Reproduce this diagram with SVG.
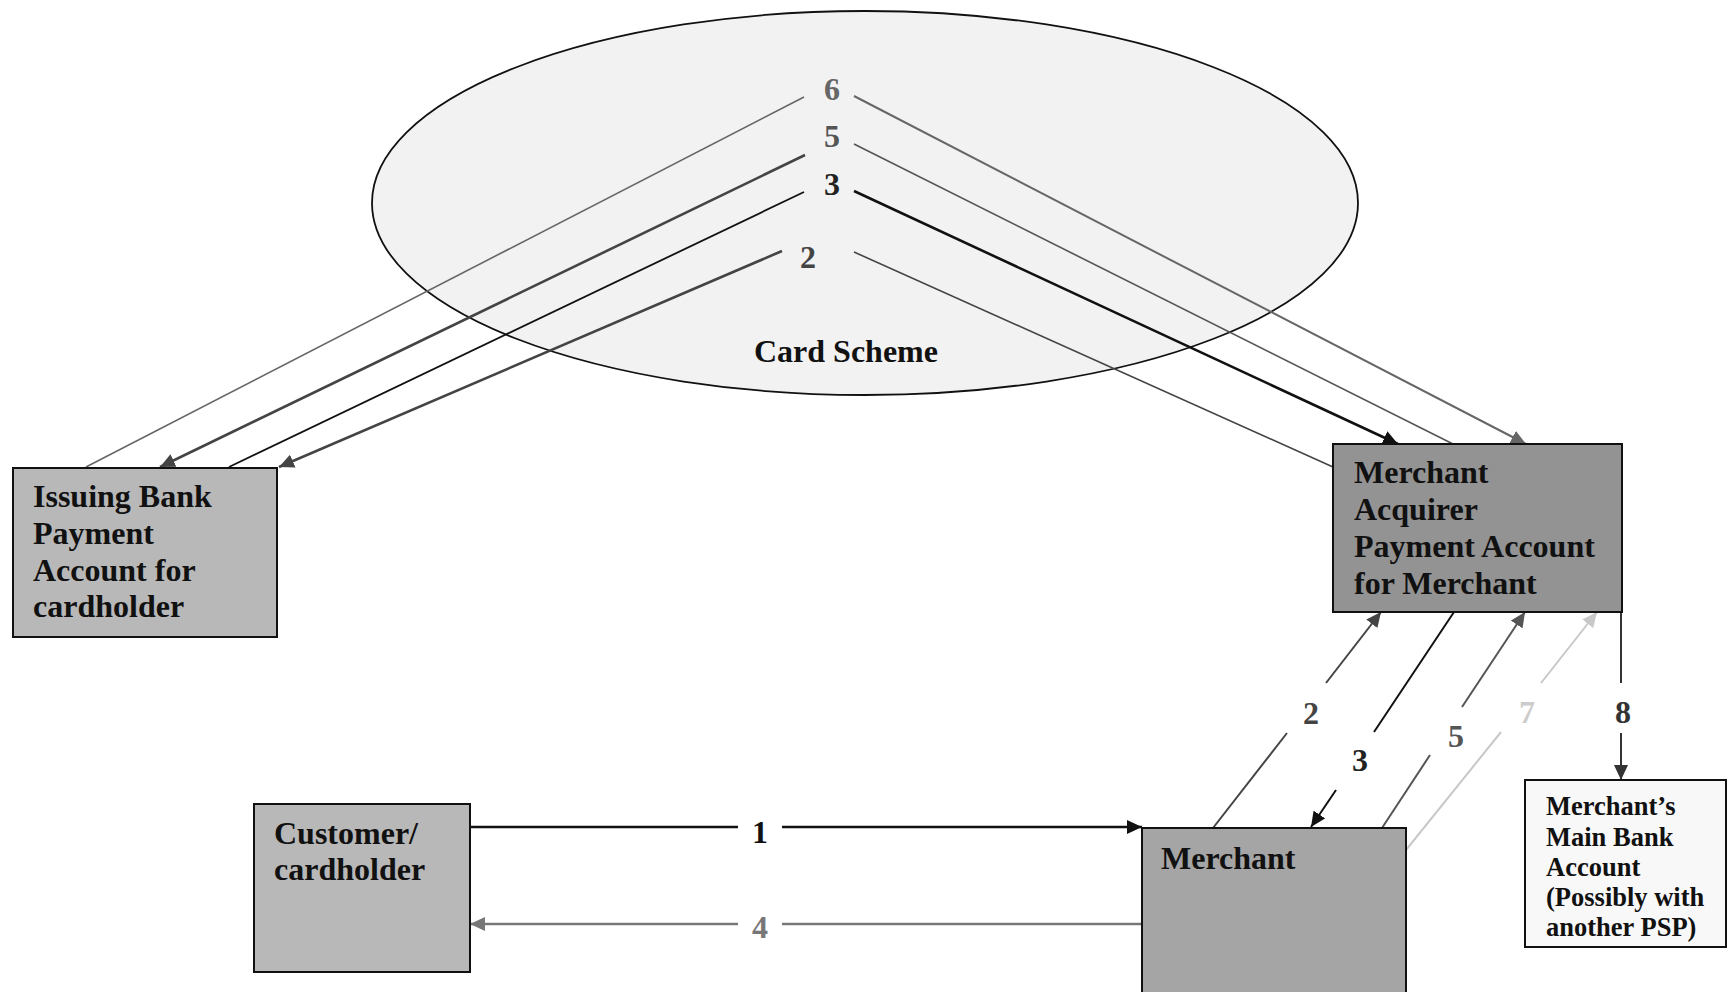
<svg xmlns="http://www.w3.org/2000/svg" width="1728" height="992" viewBox="0 0 1728 992">
<defs>
<style>
.t{font-family:"Liberation Serif","Times New Roman",serif;font-weight:bold;font-size:32px;fill:#111}
.s{font-size:26.5px}
.box{stroke:#111;stroke-width:2}
.ln{fill:none}
.lab{font-family:"Liberation Serif","Times New Roman",serif;font-weight:bold;font-size:32px;text-anchor:middle}
</style>
<marker id="a111" markerUnits="userSpaceOnUse" markerWidth="16" markerHeight="14" refX="15" refY="7" orient="auto"><path d="M0,0 L15,7 L0,14 z" fill="#111"/></marker>
<marker id="a444" markerUnits="userSpaceOnUse" markerWidth="16" markerHeight="14" refX="15" refY="7" orient="auto"><path d="M0,0 L15,7 L0,14 z" fill="#444"/></marker>
<marker id="a555" markerUnits="userSpaceOnUse" markerWidth="16" markerHeight="14" refX="15" refY="7" orient="auto"><path d="M0,0 L15,7 L0,14 z" fill="#555"/></marker>
<marker id="a666" markerUnits="userSpaceOnUse" markerWidth="16" markerHeight="14" refX="15" refY="7" orient="auto"><path d="M0,0 L15,7 L0,14 z" fill="#666"/></marker>
<marker id="a777" markerUnits="userSpaceOnUse" markerWidth="16" markerHeight="14" refX="15" refY="7" orient="auto"><path d="M0,0 L15,7 L0,14 z" fill="#777"/></marker>
<marker id="accc" markerUnits="userSpaceOnUse" markerWidth="16" markerHeight="14" refX="15" refY="7" orient="auto"><path d="M0,0 L15,7 L0,14 z" fill="#c8c8c8"/></marker>
<marker id="a333" markerUnits="userSpaceOnUse" markerWidth="16" markerHeight="14" refX="15" refY="7" orient="auto"><path d="M0,0 L15,7 L0,14 z" fill="#333"/></marker>
</defs>
<rect width="1728" height="992" fill="#fff"/>

<g id="card-scheme">
<ellipse cx="865" cy="203" rx="493" ry="192" fill="#f2f2f2" stroke="#111" stroke-width="1.8"/>
<text class="t" x="754" y="362">Card Scheme</text>
</g>

<g id="connectors">
<!-- upper left -->
<line class="ln" x1="804" y1="97" x2="86" y2="467" stroke="#666" stroke-width="1.6"/>
<line class="ln" x1="805" y1="155" x2="160" y2="467" stroke="#444" stroke-width="2.6" marker-end="url(#a444)"/>
<line class="ln" x1="804" y1="192" x2="229" y2="467" stroke="#111" stroke-width="1.8"/>
<line class="ln" x1="782" y1="251" x2="279" y2="467" stroke="#444" stroke-width="2.6" marker-end="url(#a444)"/>
<!-- upper right -->
<line class="ln" x1="854" y1="96" x2="1526" y2="444" stroke="#666" stroke-width="2" marker-end="url(#a666)"/>
<line class="ln" x1="854" y1="144" x2="1453" y2="444" stroke="#555" stroke-width="1.6"/>
<line class="ln" x1="854" y1="191" x2="1398" y2="444" stroke="#111" stroke-width="2.6" marker-end="url(#a111)"/>
<line class="ln" x1="854" y1="252" x2="1333" y2="467" stroke="#444" stroke-width="1.6"/>
<!-- 1 and 4 -->
<line class="ln" x1="470" y1="827" x2="738" y2="827" stroke="#111" stroke-width="2.6"/>
<line class="ln" x1="782" y1="827" x2="1142" y2="827" stroke="#111" stroke-width="2.6" marker-end="url(#a111)"/>
<line class="ln" x1="1142" y1="924" x2="782" y2="924" stroke="#777" stroke-width="2.6"/>
<line class="ln" x1="738" y1="924" x2="470" y2="924" stroke="#777" stroke-width="2.6" marker-end="url(#a777)"/>
<!-- 2 lower -->
<line class="ln" x1="1213" y1="828" x2="1287" y2="733" stroke="#444" stroke-width="2"/>
<line class="ln" x1="1326" y1="683" x2="1381" y2="612" stroke="#444" stroke-width="2" marker-end="url(#a444)"/>
<!-- 3 lower -->
<line class="ln" x1="1454" y1="612" x2="1374" y2="732" stroke="#111" stroke-width="2"/>
<line class="ln" x1="1336" y1="790" x2="1311" y2="827" stroke="#111" stroke-width="2" marker-end="url(#a111)"/>
<!-- 5 lower -->
<line class="ln" x1="1382" y1="828" x2="1430" y2="755" stroke="#555" stroke-width="2"/>
<line class="ln" x1="1462" y1="707" x2="1525" y2="612" stroke="#555" stroke-width="2" marker-end="url(#a555)"/>
<!-- 7 -->
<line class="ln" x1="1406" y1="850" x2="1501" y2="732" stroke="#c8c8c8" stroke-width="2"/>
<line class="ln" x1="1541" y1="683" x2="1597" y2="612" stroke="#c8c8c8" stroke-width="2" marker-end="url(#accc)"/>
<!-- 8 -->
<line class="ln" x1="1621" y1="612" x2="1621" y2="683" stroke="#333" stroke-width="2"/>
<line class="ln" x1="1621" y1="733" x2="1621" y2="780" stroke="#333" stroke-width="2" marker-end="url(#a333)"/>
<!-- labels -->
<text class="lab" x="832" y="100" fill="#666">6</text>
<text class="lab" x="832" y="147" fill="#555">5</text>
<text class="lab" x="832" y="195" fill="#222">3</text>
<text class="lab" x="808" y="268" fill="#444">2</text>
<text class="lab" x="760" y="843" fill="#111">1</text>
<text class="lab" x="760" y="938" fill="#777">4</text>
<text class="lab" x="1311" y="724" fill="#444">2</text>
<text class="lab" x="1360" y="771" fill="#222">3</text>
<text class="lab" x="1456" y="747" fill="#555">5</text>
<text class="lab" x="1527" y="723" fill="#ccc">7</text>
<text class="lab" x="1623" y="723" fill="#333">8</text>
</g>

<g id="issuing-bank">
<rect class="box" x="13" y="468" width="264" height="169" fill="#b8b8b8"/>
<text class="t" x="33" y="507">Issuing Bank</text>
<text class="t" x="33" y="544">Payment</text>
<text class="t" x="33" y="581">Account for</text>
<text class="t" x="33" y="617">cardholder</text>
</g>

<g id="merchant-acquirer">
<rect class="box" x="1333" y="444" width="289" height="168" fill="#939393"/>
<text class="t" x="1354" y="483">Merchant</text>
<text class="t" x="1354" y="520">Acquirer</text>
<text class="t" x="1354" y="557">Payment Account</text>
<text class="t" x="1354" y="594">for Merchant</text>
</g>

<g id="customer">
<rect class="box" x="254" y="804" width="216" height="168" fill="#b8b8b8"/>
<text class="t" x="274" y="844">Customer/</text>
<text class="t" x="274" y="880">cardholder</text>
</g>

<g id="merchant">
<rect class="box" x="1142" y="828" width="264" height="180" fill="#a5a5a5"/>
<text class="t" x="1161" y="869">Merchant</text>
</g>

<g id="merchant-main-bank">
<rect class="box" x="1525" y="780" width="201" height="167" fill="#f8f8f8"/>
<text class="t s" x="1546" y="815">Merchant’s</text>
<text class="t s" x="1546" y="846">Main Bank</text>
<text class="t s" x="1546" y="876">Account</text>
<text class="t s" x="1546" y="906">(Possibly with</text>
<text class="t s" x="1546" y="936">another PSP)</text>
</g>
</svg>
